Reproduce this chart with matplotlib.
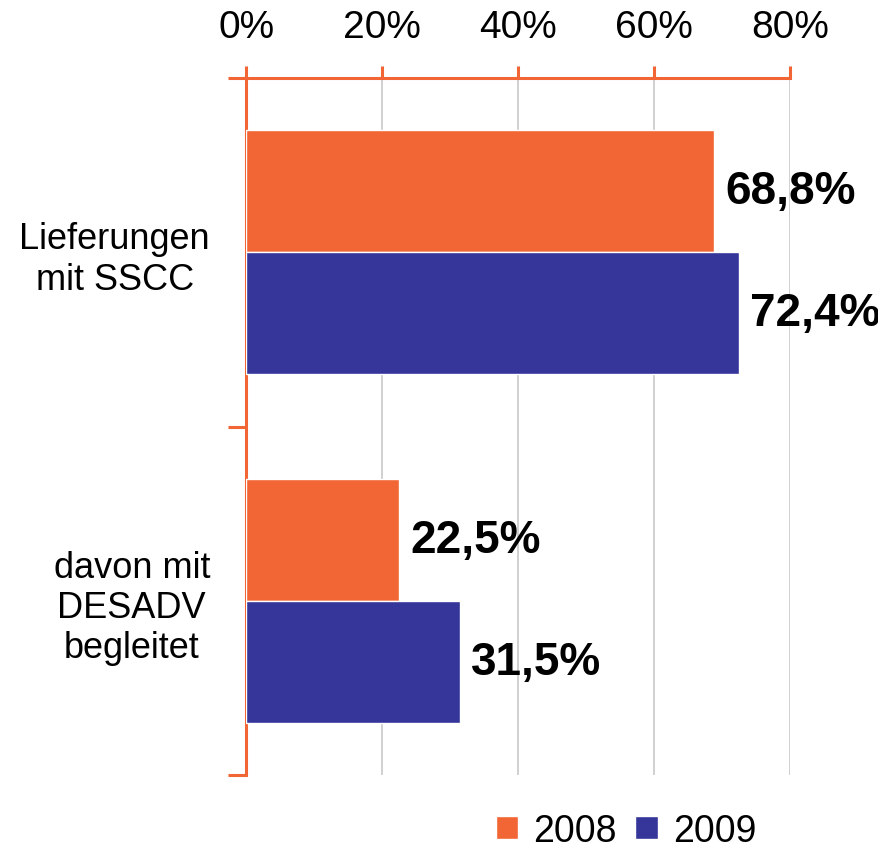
import numpy as np
import matplotlib.pyplot as plt

# ============== data =============
CATEGORIES = ["Lieferungen\nmit SSCC", "davon mit\nDESADV\nbegleitet"]
YEARS = ["2008", "2009"]
VALUES_2008 = [68.8, 22.5]
VALUES_2009 = [72.4, 31.5]
VALUE_LABELS_2008 = ["68,8%", "22,5%"]
VALUE_LABELS_2009 = ["72,4%", "31,5%"]
X_TICKS = [0, 20, 40, 60, 80]

# ============== style =============
COLOR_2008 = "#F26535"
COLOR_2009 = "#35359A"
SPINE_COLOR = "#F26535"
GRID_COLOR = "#C8C8C8"
BAR_HEIGHT = 0.35

plt.rcParams['font.family'] = ['Liberation Sans', 'DejaVu Sans']

fig = plt.figure(figsize=(8.79, 8.54), dpi=100)
ax = fig.add_axes([0.280, 0.0913, 0.619, 0.8162])

y = np.arange(len(CATEGORIES))
ax.barh(y - BAR_HEIGHT / 2, VALUES_2008, height=BAR_HEIGHT, color=COLOR_2008,
        edgecolor="white", linewidth=1, label=YEARS[0], zorder=3)
ax.barh(y + BAR_HEIGHT / 2, VALUES_2009, height=BAR_HEIGHT, color=COLOR_2009,
        edgecolor="white", linewidth=1, label=YEARS[1], zorder=3)

# Werte rechts neben den Balken
for i in range(len(CATEGORIES)):
    ax.annotate(VALUE_LABELS_2008[i], (VALUES_2008[i], y[i] - BAR_HEIGHT / 2),
                xytext=(8, 0), textcoords="offset points", va="center", ha="left",
                fontsize=33, fontweight="bold")
    ax.annotate(VALUE_LABELS_2009[i], (VALUES_2009[i], y[i] + BAR_HEIGHT / 2),
                xytext=(8, 0), textcoords="offset points", va="center", ha="left",
                fontsize=33, fontweight="bold")

ax.set_xlim(0, 80)
ax.set_ylim(1.5, -0.5)

# x-Achse oben
ax.xaxis.tick_top()
ax.set_xticks(X_TICKS)
ax.set_xticklabels([f"{t}%" for t in X_TICKS], fontsize=28)
ax.tick_params(axis="x", direction="out", length=9, width=2.2, color=SPINE_COLOR, pad=15)

# y-Achse: Striche an Kategoriegrenzen, Beschriftung in der Mitte
ax.set_yticks([-0.5, 0.5, 1.5])
ax.set_yticklabels([])
ax.tick_params(axis="y", which="major", direction="out", length=13, width=2.2, color=SPINE_COLOR)
ax.set_yticks(y, minor=True)
ax.set_yticklabels(CATEGORIES, minor=True, fontsize=26, multialignment="center")
ax.tick_params(axis="y", which="minor", length=0, pad=26)

ax.xaxis.grid(True, color=GRID_COLOR, linewidth=1.2, zorder=0)
ax.set_axisbelow(True)

for side in ["right", "bottom"]:
    ax.spines[side].set_visible(False)
for side in ["top", "left"]:
    ax.spines[side].set_color(SPINE_COLOR)
    ax.spines[side].set_linewidth(2.2)

fig.legend(loc="center", bbox_to_anchor=(0.712, 0.026), ncol=2, frameon=False,
           fontsize=27, handlelength=0.6, handleheight=0.6, handletextpad=0.4,
           columnspacing=0.5, borderpad=0.1)

plt.savefig("out.png", dpi=100)
